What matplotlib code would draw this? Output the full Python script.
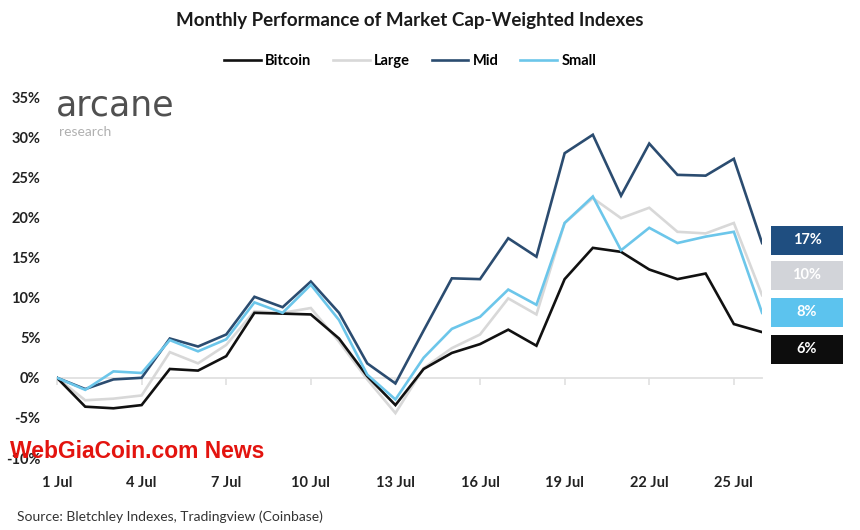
import matplotlib
matplotlib.use('Agg')
import matplotlib.pyplot as plt
from matplotlib.patches import Rectangle

plt.rcParams['font.family'] = ['Lato', 'DejaVu Sans']

# 数据（1 Jul - 26 Jul，月内累计涨跌幅 %）
days = list(range(1, 27))
tick_days = [1, 4, 7, 10, 13, 16, 19, 22, 25]
tick_labels = ['1 Jul', '4 Jul', '7 Jul', '10 Jul', '13 Jul', '16 Jul', '19 Jul', '22 Jul', '25 Jul']
y_ticks = [-10, -5, 0, 5, 10, 15, 20, 25, 30, 35]

bitcoin = [0, -3.6, -3.8, -3.4, 1.1, 0.9, 2.7, 8.1, 8.0, 7.9, 4.9, 0.2, -3.4,
           1.1, 3.1, 4.2, 6.0, 4.0, 12.3, 16.2, 15.7, 13.5, 12.3, 13.0, 6.7, 5.7]
large = [0, -2.8, -2.6, -2.2, 3.2, 1.8, 4.1, 8.3, 8.1, 8.7, 4.5, -0.2, -4.4,
         1.2, 3.7, 5.4, 9.9, 7.9, 19.3, 22.4, 19.9, 21.2, 18.2, 18.0, 19.3, 10.3]
mid = [0, -1.4, -0.2, 0.0, 4.9, 3.9, 5.4, 10.1, 8.8, 12.0, 8.1, 1.8, -0.7,
       5.9, 12.4, 12.3, 17.4, 15.1, 28.0, 30.3, 22.7, 29.2, 25.3, 25.2, 27.3, 16.8]
small = [0, -1.5, 0.8, 0.6, 4.7, 3.3, 4.8, 9.4, 8.1, 11.6, 7.2, 0.4, -2.7,
         2.5, 6.1, 7.6, 11.0, 9.1, 19.3, 22.6, 15.9, 18.7, 16.8, 17.6, 18.2, 8.1]

series_names = ['Bitcoin', 'Large', 'Mid', 'Small']
series_values = [bitcoin, large, mid, small]
line_colors = ['#111111', '#d8d8d8', '#2b4c70', '#6cc6ea']
box_colors = ['#0d0d0d', '#d2d4d9', '#1f4e80', '#5cc3ee']
z_orders = [3, 2, 4, 5]

fig = plt.figure(figsize=(8.6, 5.3), dpi=100)
ax = fig.add_axes([0.0663, 0.1358, 0.8198, 0.6811])

for name, vals, col, z in zip(series_names, series_values, line_colors, z_orders):
    ax.plot(days, vals, color=col, linewidth=1.9, label=name, zorder=z,
            solid_joinstyle='miter')

ax.set_xlim(1, 26)
ax.set_ylim(-10, 35)

# 零线作为x轴
for s in ['top', 'right', 'left']:
    ax.spines[s].set_visible(False)
ax.spines['bottom'].set_position(('data', 0))
ax.spines['bottom'].set_color('#e0e0e0')
ax.spines['bottom'].set_linewidth(1.3)
ax.spines['bottom'].set_zorder(1)
ax.set_xticks(tick_days)
ax.tick_params(axis='x', direction='out', length=5, width=1.2, color='#e0e0e0',
               labelbottom=False)

ax.set_yticks(y_ticks)
ax.set_yticklabels([f'{v}%' for v in y_ticks])
ax.tick_params(axis='y', length=0, pad=12, labelsize=10.5, labelcolor='#222222')
for lbl in ax.get_yticklabels():
    lbl.set_fontweight('bold')

# 底部日期标签
sec = ax.secondary_xaxis('bottom')
sec.set_xticks(tick_days, tick_labels)
sec.spines['bottom'].set_visible(False)
sec.tick_params(length=0, pad=13, labelsize=10.5, labelcolor='#222222')
for lbl in sec.get_xticklabels():
    lbl.set_fontweight('bold')

# 标题和图例
fig.text(0.477, 0.962, 'Monthly Performance of Market Cap-Weighted Indexes',
         ha='center', va='center', fontsize=13.5, fontweight='bold', color='#1a1a1a')
fig.legend(loc='center', bbox_to_anchor=(0.477, 0.885), ncol=4, frameon=False,
           handlelength=2.5, handletextpad=0.3, columnspacing=1.5,
           prop={'weight': 'bold', 'size': 10.5})

# 右侧最终值标签
order = sorted(range(4), key=lambda i: series_values[i][-1], reverse=True)
box_centers = [240, 275, 312.5, 349]
for rank, i in enumerate(order):
    cy = 1 - box_centers[rank] / 530
    h = 29 / 530
    fig.add_artist(Rectangle((771 / 860, cy - h / 2), 72 / 860, h,
                             transform=fig.transFigure, facecolor=box_colors[i],
                             edgecolor='none'))
    fig.text(807 / 860, cy, f'{round(series_values[i][-1])}%', ha='center', va='center',
             fontsize=10.5, fontweight='bold', color='white')

# logo
fig.text(56 / 860, 1 - 106 / 530, 'arcane', ha='left', va='center', fontsize=25,
         color='#505050', family=['DejaVu Sans'])
fig.text(59 / 860, 1 - 132 / 530, 'research', ha='left', va='center', fontsize=10,
         color='#b0b0b0')

# 来源
fig.text(17 / 860, 1 - 517 / 530, 'Source: Bletchley Indexes, Tradingview (Coinbase)',
         ha='left', va='center', fontsize=10, color='#333333')

# 水印
fig.text(10 / 860, 1 - 452 / 530, 'WebGiaCoin.com News', ha='left', va='center',
         fontsize=16.5, fontweight='bold', color='#e3140f',
         family=['Liberation Sans', 'DejaVu Sans'], zorder=10)

fig.savefig('out.png', dpi=100)
